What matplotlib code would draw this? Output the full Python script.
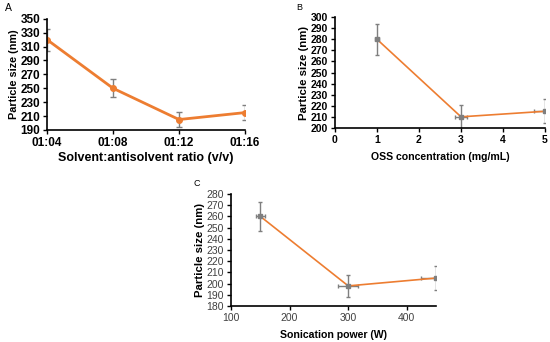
import matplotlib
matplotlib.use("Agg")
import matplotlib.pyplot as plt
import numpy as np

plt.rcParams['font.family'] = ['Liberation Sans', 'DejaVu Sans']

# Panel A
a_labels = ["01:04", "01:08", "01:12", "01:16"]
a_vals = [320, 250, 205, 215]
a_err = [16, 13, 11, 11]
# Panel B
b_x = [1, 3, 5]
b_vals = [280, 210, 215]
b_yerr = [14, 11, 11]
b_xerr = [0.04, 0.15, 0.26]
# Panel C
c_x = [150, 300, 450]
c_vals = [260, 198, 205]
c_yerr = [13, 10, 11]
c_xerr = [8, 17, 25]

orange = "#ED7D31"
grey = "#7F7F7F"

fig = plt.figure(figsize=(5.5, 3.42), dpi=100)

def style(ax):
    for s in ['top', 'right']:
        ax.spines[s].set_visible(False)
    for s in ['left', 'bottom']:
        ax.spines[s].set_color('black')
        ax.spines[s].set_linewidth(1.2)
    ax.tick_params(direction='out', length=3, width=1, color='black', pad=2)

# A
axA = fig.add_axes([0.0855, 0.620, 0.36, 0.325])
xa = np.arange(len(a_labels))
axA.errorbar(xa, a_vals, yerr=a_err, color=orange, lw=2, marker='o', ms=4,
             ecolor=grey, elinewidth=1, capsize=2)
axA.set_xlim(0, 3)
axA.set_ylim(190, 350)
axA.set_yticks(np.arange(190, 351, 20))
axA.set_xticks(xa)
axA.set_xticklabels(a_labels)
style(axA)
for t in axA.get_xticklabels() + axA.get_yticklabels():
    t.set_fontsize(8.5); t.set_fontweight('bold')
axA.set_xlabel("Solvent:antisolvent ratio (v/v)", fontsize=9, fontweight='bold', labelpad=2)
axA.set_ylabel("Particle size (nm)", fontsize=7.8, fontweight='bold', labelpad=1)
fig.text(5/550, 1 - 8/342, "A", fontsize=7.5, va='center')

# B
axB = fig.add_axes([0.609, 0.626, 0.382, 0.324])
axB.errorbar(b_x, b_vals, yerr=b_yerr, xerr=b_xerr, color=orange, lw=1.2,
             marker='s', ms=3, mfc=grey, mec=grey,
             ecolor=grey, elinewidth=1, capsize=1.5)
axB.set_xlim(0, 5)
axB.set_ylim(200, 300)
axB.set_yticks(np.arange(200, 301, 10))
axB.set_xticks(np.arange(0, 6, 1))
style(axB)
for t in axB.get_xticklabels() + axB.get_yticklabels():
    t.set_fontsize(7.5); t.set_fontweight('bold')
axB.set_xlabel("OSS concentration (mg/mL)", fontsize=7.6, fontweight='bold', labelpad=5)
axB.set_ylabel("Particle size (nm)", fontsize=8.2, fontweight='bold', labelpad=1)
fig.text(296/550, 1 - 7/342, "B", fontsize=6.5, va='center')

# C
axC = fig.add_axes([0.42, 0.105, 0.373, 0.328])
axC.errorbar(c_x, c_vals, yerr=c_yerr, xerr=c_xerr, color=orange, lw=1.2,
             marker='s', ms=2.5, mfc=grey, mec=grey,
             ecolor=grey, elinewidth=1, capsize=1.5)
axC.set_xlim(100, 450)
axC.set_ylim(180, 280)
axC.set_yticks(np.arange(180, 281, 10))
axC.set_xticks([100, 200, 300, 400])
style(axC)
for t in axC.get_xticklabels() + axC.get_yticklabels():
    t.set_fontsize(7.5); t.set_color('#404040')
axC.set_xlabel("Sonication power (W)", fontsize=7.6, fontweight='bold', labelpad=5)
axC.set_ylabel("Particle size (nm)", fontsize=8.2, fontweight='bold', labelpad=1)
fig.text(194/550, 1 - 183/342, "C", fontsize=6.5, va='center')

fig.savefig("out.png", dpi=100)
